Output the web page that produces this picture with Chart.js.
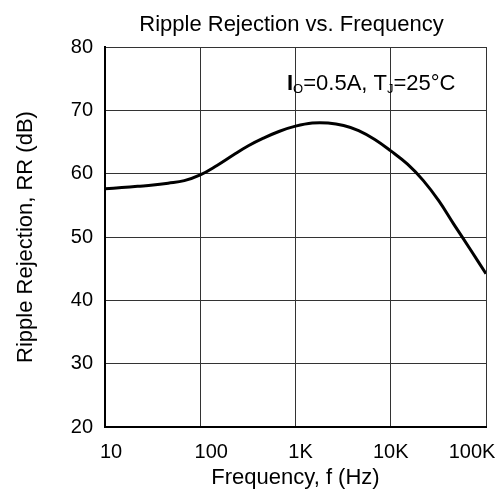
<!DOCTYPE html>
<html>
<head>
<meta charset="utf-8">
<script src="https://cdn.jsdelivr.net/npm/chart.js@4"></script>
<style>
  html, body { margin: 0; padding: 0; background: #fff; }
  #wrap { width: 502px; height: 495px; }
</style>
</head>
<body>
<div id="wrap"><canvas id="rrChart" width="502" height="495"></canvas></div>
<script>
// valores
const freqs = [10, 15, 22, 32, 46, 68, 100, 150, 220, 320, 460, 680, 1000, 1500, 2200, 3200, 4600, 6800, 10000, 15000, 22000, 32000, 46000, 68000, 100000];
const rippleRejection = [57.6, 57.8, 58.0, 58.2, 58.5, 58.9, 59.8, 61.3, 62.9, 64.4, 65.6, 66.7, 67.5, 68.0, 68.0, 67.6, 66.8, 65.4, 63.6, 61.5, 58.9, 55.7, 52.0, 48.1, 44.2];
const xTicks = [10, 100, 1000, 10000, 100000];
const xTickLabels = ['10', '100', '1K', '10K', '100K'];
const yTicks = [20, 30, 40, 50, 60, 70, 80];

const fontFamily = 'Arial, "Liberation Sans", sans-serif';
// deslocamento horizontal dos rotulos do eixo x (como no original)
const xLabelShift = [6, 11, 5, 0, -14];

// titulo, rotulos do eixo x e anotacao desenhados no canvas
const textPlugin = {
    id: 'textPlugin',
    afterDraw(chart) {
        const ctx = chart.ctx;
        const area = chart.chartArea;
        const xScale = chart.scales.x;
        ctx.save();
        ctx.fillStyle = '#000';
        ctx.textBaseline = 'alphabetic';
        ctx.textAlign = 'center';
        ctx.font = '22px ' + fontFamily;
        ctx.fillText('Ripple Rejection vs. Frequency', (area.left + area.right) / 2 - 4, 31);

        ctx.font = '20px ' + fontFamily;
        ctx.textBaseline = 'middle';
        xTicks.forEach((v, i) => {
            ctx.fillText(xTickLabels[i], xScale.getPixelForValue(v) + xLabelShift[i], area.bottom + 25);
        });

        // I_O=0.5A, T_J=25°C
        ctx.textBaseline = 'alphabetic';
        ctx.textAlign = 'left';
        let x = 287;
        const y = 90;
        const parts = [
            { t: 'I', f: 'bold 22px ', dy: 0 },
            { t: 'O', f: '13px ', dy: 3 },
            { t: '=0.5A, T', f: '22px ', dy: 0 },
            { t: 'J', f: '13px ', dy: 3 },
            { t: '=25°C', f: '22px ', dy: 0 }
        ];
        parts.forEach(p => {
            ctx.font = p.f + fontFamily;
            ctx.fillText(p.t, x, y + p.dy);
            x += ctx.measureText(p.t).width;
        });
        ctx.restore();
    }
};

const ctx = document.getElementById('rrChart').getContext('2d');
new Chart(ctx, {
    type: 'line',
    data: {
        labels: freqs,
        datasets: [{
            data: freqs.map((f, i) => ({ x: f, y: rippleRejection[i] })),
            borderColor: '#000',
            borderWidth: 3,
            pointRadius: 0,
            tension: 0.4,
            fill: false
        }]
    },
    options: {
        responsive: false,
        animation: false,
        layout: { padding: { top: 47, right: 16, left: 0, bottom: 0 } },
        plugins: {
            legend: { display: false },
            tooltip: { enabled: false }
        },
        scales: {
            x: {
                type: 'logarithmic',
                min: 10,
                max: 100000,
                afterBuildTicks(scale) {
                    scale.ticks = xTicks.map(v => ({ value: v }));
                },
                afterFit(scale) {
                    scale.height = 68;
                    scale.paddingLeft = 0;
                    scale.paddingRight = 0;
                },
                ticks: { display: false },
                grid: { color: '#333', lineWidth: 1, drawTicks: false },
                border: { color: '#000', width: 2 },
                title: {
                    display: true,
                    text: 'Frequency, f (Hz)',
                    color: '#000',
                    font: { family: fontFamily, size: 22 },
                    padding: { top: 0, bottom: 4 }
                }
            },
            y: {
                min: 20,
                max: 80,
                afterBuildTicks(scale) {
                    scale.ticks = yTicks.map(v => ({ value: v }));
                },
                afterFit(scale) {
                    scale.width = 105;
                    scale.paddingTop = 0;
                    scale.paddingBottom = 0;
                },
                ticks: {
                    color: '#000',
                    padding: 12,
                    font: { family: fontFamily, size: 20 }
                },
                grid: { color: '#333', lineWidth: 1, drawTicks: false },
                border: { color: '#000', width: 2 },
                title: {
                    display: true,
                    text: 'Ripple Rejection, RR (dB)',
                    color: '#000',
                    font: { family: fontFamily, size: 22 },
                    padding: { top: 13, bottom: 0 }
                }
            }
        }
    },
    plugins: [textPlugin]
});
</script>
</body>
</html>
